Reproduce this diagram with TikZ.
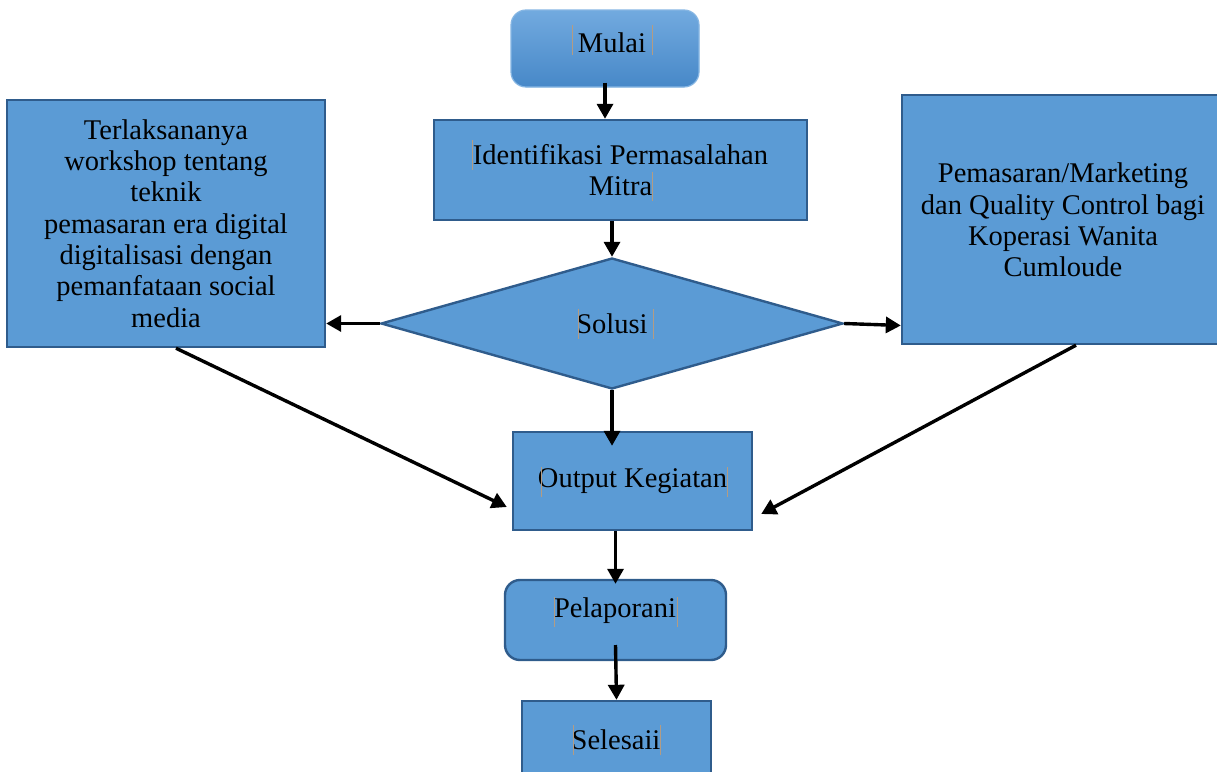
\documentclass[tikz,border=0pt]{standalone}
\usepackage{fontspec}
\setmainfont{Liberation Serif}
\usetikzlibrary{shapes.geometric,arrows.meta,calc}

\definecolor{boxblue}{HTML}{5B9BD5}
\definecolor{boxedge}{HTML}{2F5C8C}
\definecolor{topblue}{HTML}{72AADF}
\definecolor{lowblue}{HTML}{4788C8}
\definecolor{mulaiedge}{HTML}{86B6E3}
\definecolor{markbar}{HTML}{B39C84}

\begin{document}
\begin{tikzpicture}[x=1pt,y=-1pt,
    every node/.style={font=\fontsize{28.5}{31.3}\selectfont, align=center, text=black},
    kotak/.style={rectangle, draw=boxedge, fill=boxblue, line width=2.4pt, inner sep=0pt},
    bulat/.style={kotak, rounded corners=15pt},
    panah/.style={-{Triangle[length=15pt,width=16pt]}, line width=3.4pt, black}]
            \useasboundingbox (0,0) rectangle (1217,771);

            % kotak-kotak
            \node [bulat, draw=mulaiedge, line width=1.2pt, top color=topblue, bottom color=lowblue,
                   minimum width=188pt, minimum height=77pt] (mulai) at (605,48.5) {};
            \node at (612,43) {Mulai};
            \node [kotak, minimum width=373pt, minimum height=100pt] (ident) at (620.5,170)
                  {Identifikasi Permasalahan\\Mitra};
            \node [diamond, draw=boxedge, fill=boxblue, line width=2.4pt, inner sep=0pt,
                   minimum width=462pt, minimum height=131pt] (solusi) at (612,323.5) {Solusi};
            \node [kotak, minimum width=318pt, minimum height=247pt] (kiri) at (166,223.5)
                  {Terlaksananya\\workshop tentang\\teknik\\pemasaran era digital\\digitalisasi dengan\\pemanfataan social\\media};
            \node [kotak, minimum width=322pt, minimum height=249pt] (kanan) at (1063,219.5) {};
            \node at (1063,220) {Pemasaran/Marketing\\dan Quality Control bagi\\Koperasi Wanita\\Cumloude};
            \node [kotak, minimum width=239pt, minimum height=98pt] (output) at (632.5,481)
                  {Output Kegiatan};
            \node [bulat, minimum width=221pt, minimum height=80pt] (lapor) at (615.5,620) {};
            \node at (615,611) {Pelaporani};
            \node [kotak, minimum width=189pt, minimum height=84pt] (selesai) at (616.5,743) {};
            \node at (616,740) {Selesaii};

            % penanda teks
            \foreach \bx/\ya/\yb in {572/25/55, 652/25/55, 472/140/170, 652/172/201,
                                     578/309/339, 653/309/339, 541/467/497, 727/467/497,
                                     554/597/627, 677/597/627, 573/725/755, 660/725/755}
                \draw [markbar, line width=0.6pt] (\bx,\ya) -- (\bx,\yb);

            % panah
            \draw [panah] ($(mulai.south)+(0,-5)$) -- (mulai.south |- ident.north);
            \draw [panah] (solusi.north |- ident.south) -- (solusi.north);
            \draw [panah] (solusi.west) -- (solusi.west -| kiri.east);
            \draw [panah] (solusi.east) -- ($(kanan.west)+(0,106)$);
            \draw [panah] (solusi.south) -- ($(solusi.south |- output.north)+(0,15)$);
            \draw [panah] ($(kiri.south)+(10,0)$) -- ($(output.west)+(-5,26)$);
            \draw [panah] ($(kanan.south)+(13,0)$) -- ($(output.east)+(8,33)$);
            \draw [panah] (lapor.north |- output.south) -- ($(lapor.north)+(0,5)$);
            \draw [panah] ($(lapor.center)+(0,25)$) -- (selesai.north);
        \end{tikzpicture}
\end{document}
